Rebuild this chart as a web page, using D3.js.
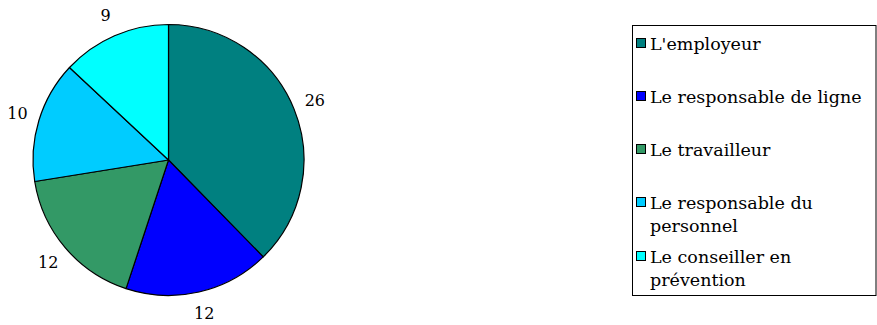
<!DOCTYPE html>
<html>
<head>
<meta charset="utf-8">
<script src="https://cdn.jsdelivr.net/npm/d3@7"></script>
<style>
  html, body { margin: 0; padding: 0; background: #fff; }
  svg { display: block; }
  text { font-family: "DejaVu Serif", "Liberation Serif", serif; fill: #000; }
</style>
</head>
<body>
<svg id="chart" width="877" height="325"></svg>
<script>
// Répartition des réponses
const categories = ["L'employeur", "Le responsable de ligne", "Le travailleur", "Le responsable du personnel", "Le conseiller en prévention"];
const values = [26, 12, 12, 10, 9];
const colors = ["#008080", "#0000FF", "#339966", "#00CCFF", "#00FFFF"];
// Legend labels broken over lines as they appear in the box
const legendLines = [["L'employeur"], ["Le responsable de ligne"], ["Le travailleur"], ["Le responsable du", "personnel"], ["Le conseiller en", "prévention"]];

const svg = d3.select("#chart");
const cx = 168.5, cy = 160, radius = 135.5, labelRadius = 158;

const data = categories.map((c, i) => ({ name: c, value: values[i], color: colors[i] }));
const pie = d3.pie().value(d => d.value).sort(null);
const arcs = pie(data);
const arc = d3.arc().innerRadius(0).outerRadius(radius);
const labelArc = d3.arc().innerRadius(labelRadius).outerRadius(labelRadius);

const g = svg.append("g").attr("transform", `translate(${cx},${cy})`);
g.selectAll("path.slice")
  .data(arcs)
  .join("path")
  .attr("class", "slice")
  .attr("d", arc)
  .attr("fill", d => d.data.color)
  .attr("stroke", "#000")
  .attr("stroke-width", 1.2)
  .attr("stroke-linejoin", "round");

g.selectAll("text.val")
  .data(arcs)
  .join("text")
  .attr("class", "val")
  .attr("transform", d => `translate(${labelArc.centroid(d)})`)
  .attr("text-anchor", "middle")
  .attr("dominant-baseline", "central")
  .attr("font-size", 16)
  .text(d => d.data.value);

// Legend
const lg = svg.append("g");
lg.append("rect")
  .attr("x", 632.5).attr("y", 25.5)
  .attr("width", 243.5).attr("height", 270)
  .attr("fill", "#fff").attr("stroke", "#000").attr("stroke-width", 1);

const rowY = [44, 97, 150, 203, 257];
const items = lg.selectAll("g.item")
  .data(data)
  .join("g")
  .attr("class", "item")
  .attr("transform", (d, i) => `translate(636,${rowY[i]})`);
items.append("rect")
  .attr("x", 0.5).attr("y", -5.5)
  .attr("width", 9).attr("height", 9)
  .attr("fill", d => d.color)
  .attr("stroke", "#000").attr("stroke-width", 1);
items.each(function(d, i) {
  const t = d3.select(this).append("text")
    .attr("x", 14).attr("y", 0)
    .attr("font-size", 17.5)
    .attr("dominant-baseline", "central");
  legendLines[i].forEach((line, j) => {
    t.append("tspan").attr("x", 14).attr("dy", j === 0 ? 0 : 23).text(line);
  });
});
</script>
</body>
</html>
